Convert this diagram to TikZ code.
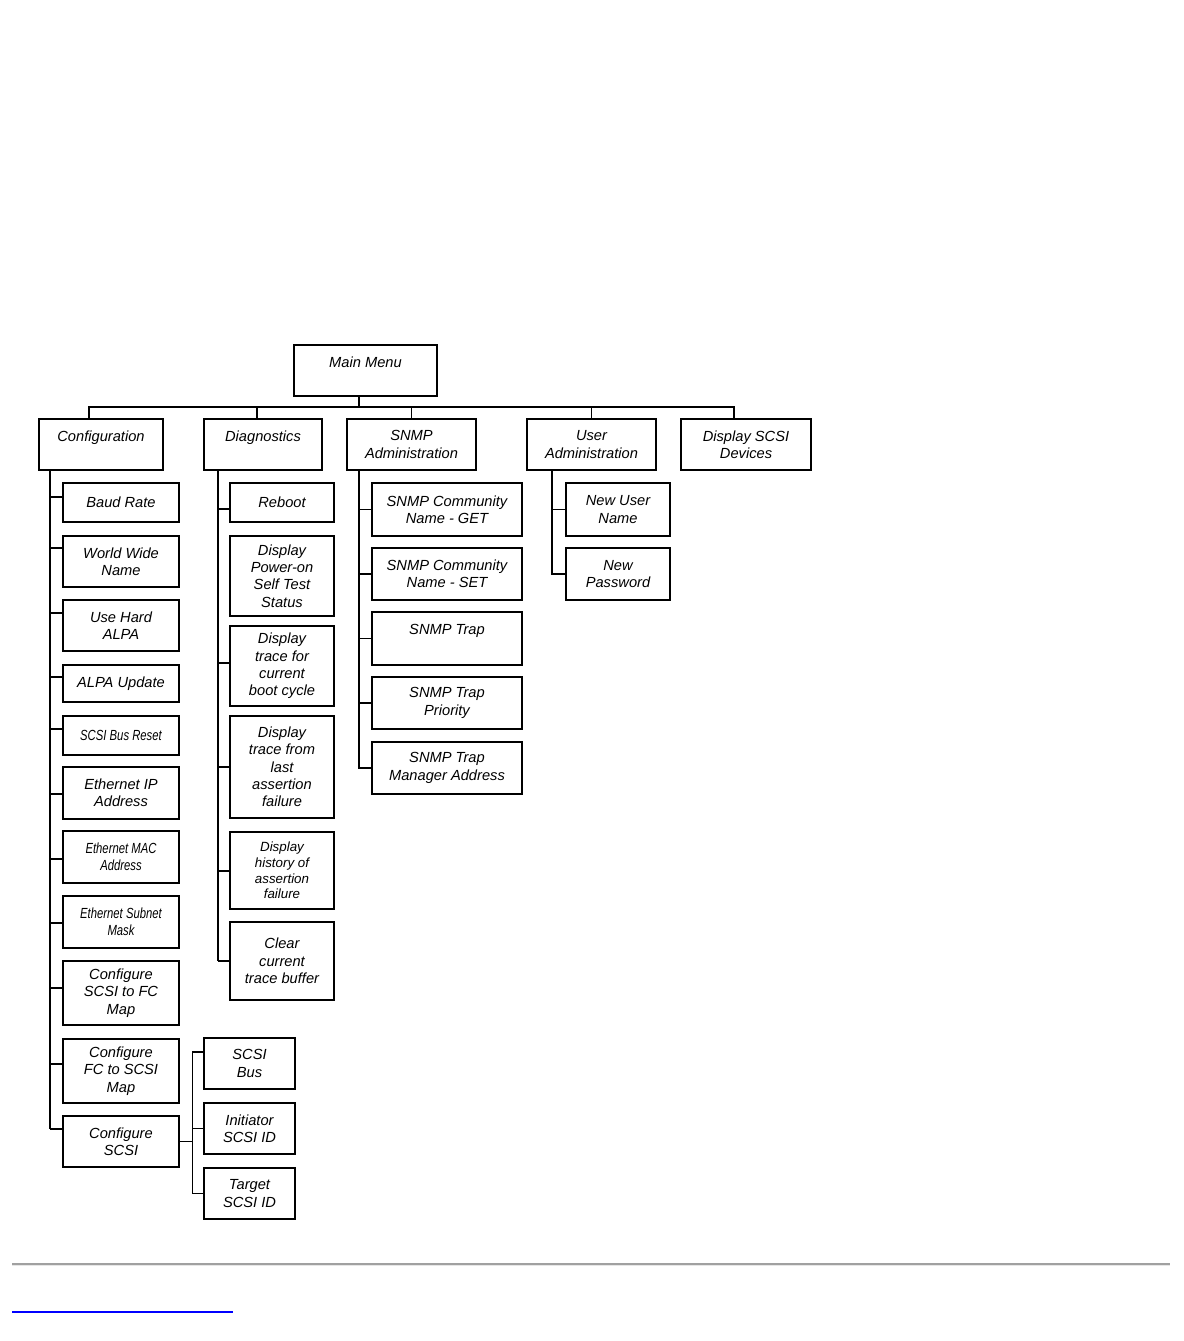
\documentclass[tikz,border=0pt]{standalone}
\usepackage{fontspec}
\setmainfont{Liberation Sans}
\usetikzlibrary{positioning}
\definecolor{rulegray}{RGB}{160,160,160}
\definecolor{rulelight}{RGB}{230,230,230}
\definecolor{linkblue}{RGB}{0,0,255}
\newcommand{\narrow}[1]{\scalebox{0.77}[1]{#1}}
\tikzset{
  menubox/.style={rectangle, draw=black, line width=1pt, inner sep=0pt, outer sep=0pt,
    align=center, font=\fontsize{11}{13}\selectfont\itshape},
  topbox/.style={menubox, minimum height=38.25pt},
  confbox/.style={menubox, minimum width=87pt},
  diagbox/.style={menubox, minimum width=78pt},
  snmpbox/.style={menubox, minimum width=112.5pt},
  userbox/.style={menubox, minimum width=78pt},
  scsibox/.style={menubox, minimum width=68.25pt, minimum height=38.25pt},
  line/.style={line width=1pt, color=black}
}
\begin{document}
\begin{tikzpicture}[x=0.75pt, y=-0.75pt]
  \useasboundingbox (0,0) rectangle (1184,1341);

  % top levels
  \node[topbox, minimum width=107.25pt] (main) at (365.5,370.5) {Main Menu\\~};
  \node[topbox, minimum width=93pt] (conf) at (101,444.5) {Configuration\\~};
  \node[topbox, minimum width=88.5pt] (diag) at (263,444.5) {Diagnostics\\~};
  \node[topbox, minimum width=96.75pt] (snmp) at (411.5,444.5) {SNMP\\Administration};
  \node[topbox, minimum width=96.75pt] (user) at (591.5,444.5) {User\\Administration};
  \node[topbox, minimum width=97.5pt] (disp) at (746,444.5) {Display SCSI\\Devices};

  % configuration column
  \node[confbox, minimum height=29.25pt, anchor=north] (baud) at (121,483) {Baud Rate};
  \node[confbox, minimum height=38.25pt, below=10.5pt of baud] (wwn) {World Wide\\Name};
  \node[confbox, minimum height=38.25pt, below=9.75pt of wwn] (hard) {Use Hard\\ALPA};
  \node[confbox, minimum height=27.75pt, below=10.5pt of hard] (alpa) {ALPA Update};
  \node[confbox, minimum height=29.25pt, below=10.5pt of alpa] (busreset) {\narrow{SCSI Bus Reset}};
  \node[confbox, minimum height=39pt, below=9pt of busreset] (ethip) {Ethernet IP\\Address};
  \node[confbox, minimum height=39pt, below=9pt of ethip] (ethmac) {\narrow{Ethernet MAC}\\\narrow{Address}};
  \node[confbox, minimum height=39pt, below=9.75pt of ethmac] (subnet) {\narrow{Ethernet Subnet}\\\narrow{Mask}};
  \node[confbox, minimum height=48pt, below=9.75pt of subnet] (scsifc) {Configure\\SCSI to FC\\Map};
  \node[confbox, minimum height=48pt, below=10.5pt of scsifc] (fcscsi) {Configure\\FC to SCSI\\Map};
  \node[confbox, minimum height=38.25pt, below=9.75pt of fcscsi] (cfgscsi) {Configure\\SCSI};

  % configure scsi column
  \node[scsibox, anchor=north] (scsibus) at (249.5,1038) {SCSI\\Bus};
  \node[scsibox, below=10.5pt of scsibus] (init) {Initiator\\SCSI ID};
  \node[scsibox, below=10.5pt of init] (target) {Target\\SCSI ID};

  % diagnostics column
  \node[diagbox, minimum height=29.25pt, anchor=north] (reboot) at (282,483) {Reboot};
  \node[diagbox, minimum height=60pt, below=10.5pt of reboot] (poweron) {Display\\Power-on\\Self Test\\Status};
  \node[diagbox, minimum height=60pt, below=7.5pt of poweron] (tracefor) {Display\\trace for\\current\\boot cycle};
  \node[diagbox, minimum height=76.5pt, below=7.5pt of tracefor] (tracefrom) {Display\\trace from\\last\\assertion\\failure};
  \node[diagbox, minimum height=57.75pt, below=10.5pt of tracefrom,
    font=\fontsize{10}{11.7}\selectfont\itshape] (history) {Display\\history of\\assertion\\failure};
  \node[diagbox, minimum height=58.5pt, below=9.75pt of history] (clear) {Clear\\current\\trace buffer};

  % snmp column
  \node[snmpbox, minimum height=39.75pt, anchor=north] (get) at (447,483) {SNMP Community\\Name - GET};
  \node[snmpbox, minimum height=39pt, below=9pt of get] (set) {SNMP Community\\Name - SET};
  \node[snmpbox, minimum height=39.75pt, below=9pt of set] (trap) {SNMP Trap\\~};
  \node[snmpbox, minimum height=39pt, below=9pt of trap] (prio) {SNMP Trap\\Priority};
  \node[snmpbox, minimum height=39pt, below=9.75pt of prio] (mgr) {SNMP Trap\\Manager Address};

  % user column
  \node[userbox, minimum height=39.75pt, anchor=north] (newuser) at (618,483) {New User\\Name};
  \node[userbox, minimum height=39pt, below=9pt of newuser] (newpass) {New\\Password};

  % main bus
  \coordinate (bus) at (359,407);
  \draw[line] ([xshift=-4.875pt]main.south) -- (bus);
  \coordinate (t1) at ([xshift=-9pt]conf.north);
  \coordinate (t2) at ([xshift=-4.5pt]diag.north);
  \coordinate (t3) at (snmp.north);
  \coordinate (t4) at (user.north);
  \coordinate (t5) at ([xshift=-9pt]disp.north);
  \draw[line] (t1) |- (bus) -| (t5);
  \foreach \t in {t2,t3,t4}
    \draw[line] (\t) -- (\t |- bus);

  % configuration branches
  \coordinate (ctrunk) at ([xshift=8.25pt]conf.south west);
  \coordinate (cend) at ([yshift=-9.75pt]cfgscsi.north west);
  \draw[line] (ctrunk) -- (ctrunk |- cend);
  \foreach \n/\d in {baud/10.5, wwn/9, hard/9.75, alpa/9, busreset/9.75, ethip/20.25,
      ethmac/21, subnet/20.25, scsifc/20.25, fcscsi/18.75, cfgscsi/9.75}{
    \coordinate (s) at ([yshift=-\d pt]\n.north west);
    \draw[line] (s) -- (s -| ctrunk);
  }

  % configure scsi branches
  \coordinate (strunk) at ([xshift=10.25pt]cfgscsi.east);
  \coordinate (sbus) at ([yshift=-10.5pt]scsibus.north west);
  \draw[line] (cfgscsi.east) -- (strunk);
  \draw[line] (sbus) -| (strunk |- target.west) -- (target.west);
  \draw[line] (init.west) -- (init.west -| strunk);

  % diagnostics branches
  \coordinate (dtrunk) at ([xshift=10.5pt]diag.south west);
  \coordinate (dend) at ([yshift=-29.25pt]clear.north west);
  \draw[line] (dtrunk) -- (dtrunk |- dend);
  \foreach \n/\d in {reboot/19.5, tracefor/27.75, tracefrom/38.25, history/29.25, clear/29.25}{
    \coordinate (s) at ([yshift=-\d pt]\n.north west);
    \draw[line] (s) -- (s -| dtrunk);
  }

  % snmp branches
  \coordinate (ntrunk) at ([xshift=9pt]snmp.south west);
  \draw[line] (ntrunk) |- (mgr.west);
  \foreach \n in {get,set,trap,prio}
    \draw[line] (\n.west) -- (\n.west -| ntrunk);

  % user branches
  \coordinate (utrunk) at ([xshift=18.75pt]user.south west);
  \draw[line] (utrunk) |- (newpass.west);
  \draw[line] (newuser.west) -- (newuser.west -| utrunk);

  % page rule and link
  \draw[rulegray, line width=1.5pt] (12,1263.5) -- (1170,1263.5);
  \draw[rulelight, line width=0.75pt] (12,1265.5) -- (1170,1265.5);
  \draw[linkblue, line width=2pt] (12,1312) -- (233,1312);
\end{tikzpicture}
\end{document}
